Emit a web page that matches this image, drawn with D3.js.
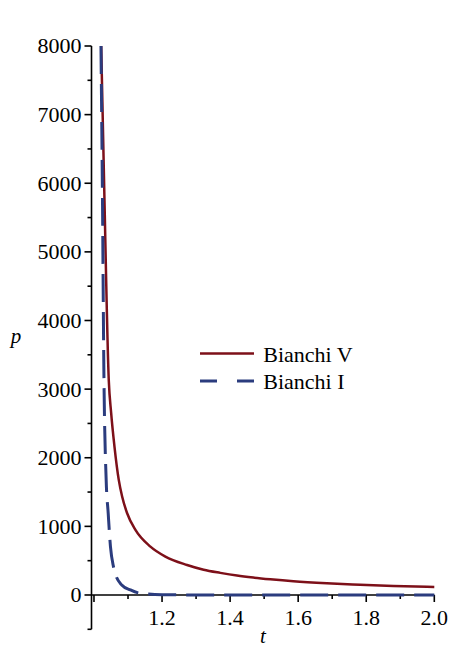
<!DOCTYPE html>
<html>
<head>
<meta charset="utf-8">
<script src="https://cdn.jsdelivr.net/npm/d3@7"></script>
<style>
  html, body { margin: 0; padding: 0; background: #fff; }
  svg { display: block; }
</style>
</head>
<body>
<script>
// Pressure p(t) for the two cosmological models
const tBianchiV = [1.0212, 1.0308, 1.0434, 1.0505, 1.0602, 1.0728, 1.0827, 1.0974, 1.1218, 1.1658,
                   1.2098, 1.2735, 1.3222, 1.3712, 1.4202, 1.468, 1.518, 1.586, 1.684, 1.782,
                   1.880, 2.0];
const pBianchiV = [8000, 5760, 3135, 2650, 2163, 1677, 1434, 1191, 948, 704,
                   559, 437, 368, 322, 283, 254, 229, 200, 171, 150,
                   131, 117];

const tBianchiI = [1.0205, 1.0249, 1.0290, 1.0358, 1.0417, 1.0484, 1.0572, 1.0622, 1.0816, 1.1071,
                   1.1306, 1.16, 1.2, 1.3, 1.5, 1.75, 2.0];
const pBianchiI = [8000, 5800, 3300, 1677, 1196, 704, 413, 316, 146, 73,
                   30, 14, 5, 1, 0.2, 0, 0];

const seriesNames = ["Bianchi V", "Bianchi I"];
const seriesColors = ["#7d1019", "#2b3c7e"];

const xMajorTicks = [1.0, 1.2, 1.4, 1.6, 1.8, 2.0];
const xLabelTicks = [1.2, 1.4, 1.6, 1.8, 2.0];
const xMinorTicks = [1.1, 1.3, 1.5, 1.7, 1.9];
const yMajorTicks = [0, 1000, 2000, 3000, 4000, 5000, 6000, 7000, 8000];
const yMinorTicks = [-500, 500, 1500, 2500, 3500, 4500, 5500, 6500, 7500];

const W = 451, H = 648;
const FONT = "'Liberation Serif', 'Times New Roman', 'DejaVu Serif', serif";
const svg = d3.select("body").append("svg").attr("width", W).attr("height", H)
  .attr("font-family", FONT);

const tMin = 0.9927, tMax = 2.0;
const x = d3.scaleLinear().domain([tMin, tMax]).range([91.5, 434.3]);
const y = d3.scaleLinear().domain([-500, 8000]).range([629.3, 46]);

const axisG = svg.append("g").attr("stroke", "#000").attr("stroke-width", 1.6);

// Vertical axis
axisG.append("line").attr("x1", x(tMin)).attr("x2", x(tMin)).attr("y1", y(-500)).attr("y2", y(8000));
axisG.selectAll(".ymaj").data(yMajorTicks).join("line")
  .attr("x1", x(tMin) - 7).attr("x2", x(tMin))
  .attr("y1", d => y(d)).attr("y2", d => y(d));
axisG.selectAll(".ymin").data(yMinorTicks).join("line")
  .attr("x1", x(tMin) - 4).attr("x2", x(tMin))
  .attr("y1", d => y(d)).attr("y2", d => y(d));

// Horizontal axis at p = 0
axisG.append("line").attr("x1", x(tMin)).attr("x2", x(tMax)).attr("y1", y(0)).attr("y2", y(0));
axisG.selectAll(".xmaj").data(xMajorTicks).join("line")
  .attr("x1", d => x(d)).attr("x2", d => x(d))
  .attr("y1", y(0)).attr("y2", y(0) + 7);
axisG.selectAll(".xmin").data(xMinorTicks).join("line")
  .attr("x1", d => x(d)).attr("x2", d => x(d))
  .attr("y1", y(0)).attr("y2", y(0) + 4);

// Tick labels
svg.selectAll(".ylab").data(yMajorTicks).join("text")
  .attr("font-family", FONT)
  .attr("x", 81.5).attr("y", d => y(d)).attr("dy", "0.34em")
  .attr("text-anchor", "end").attr("font-size", 22)
  .text(d => d);
svg.selectAll(".xlab").data(xLabelTicks).join("text")
  .attr("font-family", FONT)
  .attr("x", d => x(d)).attr("y", 625)
  .attr("text-anchor", "middle").attr("font-size", 22)
  .text(d => d.toFixed(1));

// Axis titles
svg.append("text").attr("font-family", FONT).attr("x", 263).attr("y", 643).attr("text-anchor", "middle")
  .attr("font-size", 21).attr("font-style", "italic").text("t");
svg.append("text").attr("font-family", FONT).attr("x", 16).attr("y", 343).attr("text-anchor", "middle")
  .attr("font-size", 21).attr("font-style", "italic").text("p");

// Curves
svg.append("clipPath").attr("id", "plotClip").append("rect")
  .attr("x", x(tMin)).attr("y", y(8000) - 2)
  .attr("width", x(tMax) - x(tMin) + 4).attr("height", y(-500) - y(8000) + 2);

const line = d3.line().x(d => x(d[0])).y(d => y(d[1])).curve(d3.curveMonotoneX);
const plot = svg.append("g").attr("clip-path", "url(#plotClip)");

plot.append("path")
  .datum(d3.zip(tBianchiV, pBianchiV))
  .attr("d", line).attr("fill", "none")
  .attr("stroke", seriesColors[0]).attr("stroke-width", 2.5);

plot.append("path")
  .datum(d3.zip(tBianchiI, pBianchiI))
  .attr("d", line).attr("fill", "none")
  .attr("stroke", seriesColors[1]).attr("stroke-width", 3)
  .attr("stroke-dasharray", "28 10");

// Legend
const legend = svg.append("g");
const legendRows = [
  { name: seriesNames[0], color: seriesColors[0], dash: null, ly: 353.5, ty: 361.7 },
  { name: seriesNames[1], color: seriesColors[1], dash: "17 20", ly: 381, ty: 389.3 }
];
legendRows.forEach(r => {
  legend.append("line").attr("x1", 200).attr("x2", 254).attr("y1", r.ly).attr("y2", r.ly)
    .attr("stroke", r.color).attr("stroke-width", r.dash ? 3 : 2.5)
    .attr("stroke-dasharray", r.dash);
  legend.append("text").attr("font-family", FONT).attr("x", 263.3).attr("y", r.ty)
    .attr("font-size", 22).text(r.name);
});
</script>
</body>
</html>
